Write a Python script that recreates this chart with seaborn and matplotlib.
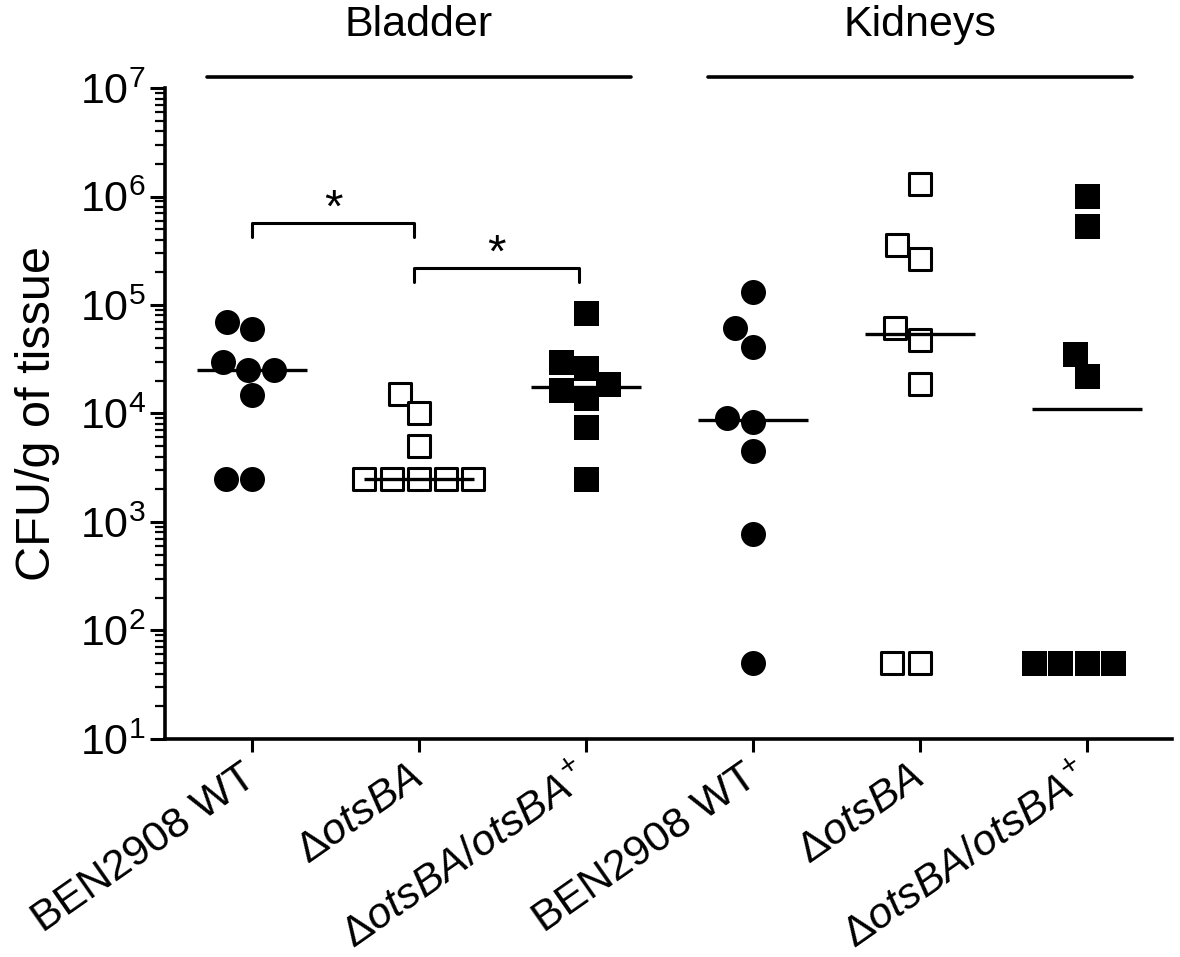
import numpy as np
import pandas as pd
import seaborn as sns
import matplotlib.pyplot as plt
from matplotlib.ticker import LogLocator, NullFormatter

# CFU/g of tissue
bladder_wt = [60000, 70000, 30000, 25000, 25000, 14800, 2500, 2500]
bladder_ko = [15000, 10000, 5000, 2500, 2500, 2500, 2500, 2500]
bladder_comp = [84000, 26000, 30000, 16500, 13900, 18700, 7500, 2500]
kidney_wt = [132000, 61000, 41000, 9100, 8400, 4500, 780, 50]
kidney_ko = [1300000, 360000, 265000, 61000, 47500, 18700, 50, 50]
kidney_comp = [1010000, 535000, 35300, 22000, 50, 50, 50, 50]

groups = ["bladder_wt", "bladder_ko", "bladder_comp",
          "kidney_wt", "kidney_ko", "kidney_comp"]
strains = ["wt", "ko", "comp", "wt", "ko", "comp"]
tick_labels = ["BEN2908 WT", r"$\Delta\mathit{otsBA}$", r"$\Delta\mathit{otsBA/otsBA}^{+}$",
               "BEN2908 WT", r"$\Delta\mathit{otsBA}$", r"$\Delta\mathit{otsBA/otsBA}^{+}$"]
tissues = ["Bladder", "Kidneys"]

values = [bladder_wt, bladder_ko, bladder_comp, kidney_wt, kidney_ko, kidney_comp]
rows = []
for g, s, v in zip(groups, strains, values):
    for val in v:
        rows.append({"group": g, "strain": s, "cfu": val})
df = pd.DataFrame(rows)

sns.set_style("ticks")
plt.rcParams["font.family"] = ["Liberation Sans", "DejaVu Sans"]
plt.rcParams["mathtext.fontset"] = "custom"
plt.rcParams["mathtext.rm"] = "Liberation Sans"
plt.rcParams["mathtext.it"] = "Liberation Sans:italic"
for key in ["text.color", "axes.labelcolor", "xtick.color", "ytick.color", "axes.edgecolor"]:
    plt.rcParams[key] = "black"

fig = plt.figure(figsize=(11.8, 9.57), dpi=100)
ax = fig.add_axes([0.14, 0.228, 0.853, 0.680])
ax.set_yscale("log")
ax.set_ylim(10, 1e7)
ax.set_xlim(-0.52, 5.51)

styles = {
    "wt": dict(marker="o", color="black", linewidth=0, size=18),
    "ko": dict(marker="s", color="white", edgecolor="black", linewidth=2.2, size=16.5),
    "comp": dict(marker="s", color="black", linewidth=0, size=18),
}
for s, kw in styles.items():
    sns.swarmplot(data=df[df["strain"] == s], x="group", y="cfu", order=groups,
                  ax=ax, zorder=3, **kw)

medians = df.groupby("group")["cfu"].median()
for i, g in enumerate(groups):
    ax.hlines(medians[g], i - 0.33, i + 0.33, color="black", linewidth=2.4, zorder=5)

ax.set_xlim(-0.52, 5.51)
ax.set_ylim(10, 1e7)
ax.yaxis.set_major_locator(LogLocator(base=10, numticks=10))
ax.yaxis.set_minor_locator(LogLocator(base=10, subs=np.arange(2, 10), numticks=20))
ax.yaxis.set_minor_formatter(NullFormatter())

ax.set_xticks(range(len(groups)))
ax.set_xticklabels(tick_labels, rotation=35, ha="right", va="center",
                   rotation_mode="anchor", fontsize=31)
ax.set_xlabel("")
ax.set_ylabel("CFU/g of tissue", fontsize=35, labelpad=14)
ax.tick_params(axis="y", which="major", labelsize=31, length=11, width=2.2, pad=3)
ax.tick_params(axis="y", which="minor", length=7, width=1.6)
ax.tick_params(axis="x", length=9, width=2.2, pad=16)
sns.despine(ax=ax)
for side in ["left", "bottom"]:
    ax.spines[side].set_linewidth(2.6)

# significance brackets
brackets = [(0.0, 0.97, 5.7e5, 4.2e5), (0.97, 1.96, 2.2e5, 1.63e5)]
for x0, x1, top, leg in brackets:
    ax.plot([x0, x0, x1, x1], [leg, top, top, leg], color="black", linewidth=2.2, clip_on=False)
    ax.text((x0 + x1) / 2, top * 1.02, "*", ha="center", va="baseline", fontsize=34)

# tissue headers above the axes
trans = ax.get_xaxis_transform()
for center, name in zip([1, 4], tissues):
    ax.plot([center - 1.27, center + 1.27], [1.017, 1.017], color="black",
            linewidth=2.6, transform=trans, clip_on=False)
    ax.text(center, 1.097, name, ha="center", va="center", fontsize=31, transform=trans)

fig.savefig("out.png", dpi=100)
